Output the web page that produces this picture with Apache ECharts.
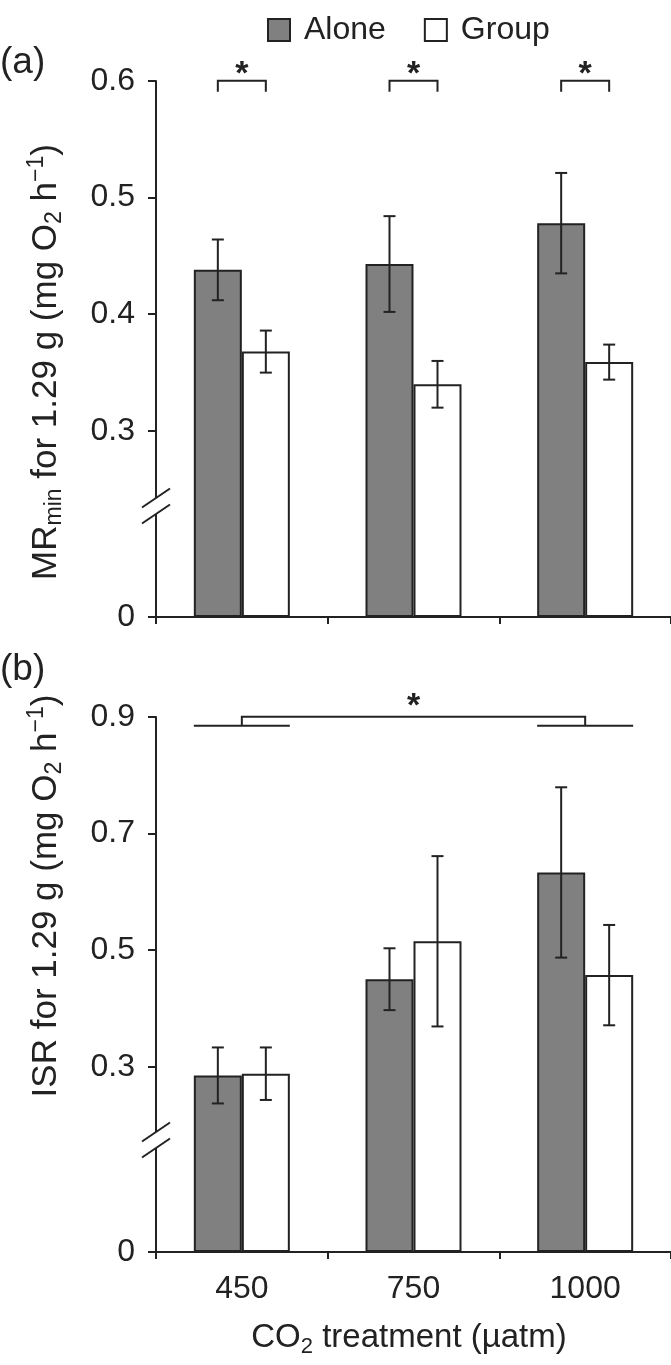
<!DOCTYPE html>
<html><head><meta charset="utf-8">
<script src="https://cdn.jsdelivr.net/npm/echarts@6/dist/echarts.min.js"></script>
<style>html,body{margin:0;padding:0;background:#fff}#c{width:671px;height:1365px}</style>
</head><body><div id="c"></div>
<script>
// ---- data ----
const categories = ['450', '750', '1000'];
const seriesNames = ['Alone', 'Group'];
// panel (a) MRmin
const aloneA = [0.438, 0.443, 0.478];
const aloneA_se = [0.026, 0.041, 0.043];
const groupA = [0.368, 0.340, 0.359];
const groupA_se = [0.018, 0.020, 0.015];
// panel (b) ISR
const aloneB = [0.285, 0.450, 0.633];
const aloneB_se = [0.048, 0.053, 0.146];
const groupB = [0.288, 0.515, 0.457];
const groupB_se = [0.045, 0.146, 0.086];
// axes
const yTicksA = [0, 0.3, 0.4, 0.5, 0.6];
const yTicksB = [0, 0.3, 0.5, 0.7, 0.9];
const breakA = [0.0882, 0.2426];
const breakB = [0.1783, 0.188];
// significance
const sigPairsA = [0, 1, 2];
const sigSpanB = [0, 2];

const FONT = "'Liberation Sans', Arial, sans-serif";
const INK = '#222';
const BAR_W = 48;

const chart = echarts.init(document.getElementById('c'), null, {renderer: 'canvas'});

function fmt(v) { return v === 0 ? '0' : v.toFixed(1); }

function xAxisCfg(grid, showLabels) {
  return {
    type: 'category', gridIndex: grid, data: categories,
    axisLine: {lineStyle: {color: INK, width: 2}},
    axisTick: {show: true, length: 7, lineStyle: {color: INK, width: 2}},
    axisLabel: {show: showLabels, fontSize: 32, color: INK, fontFamily: FONT, margin: 21},
    splitLine: {show: false}
  };
}
function yAxisCfg(grid, ticks, brk) {
  return {
    type: 'value', gridIndex: grid, min: ticks[0], max: ticks[ticks.length - 1],
    breaks: [{start: brk[0], end: brk[1], gap: '2.98%'}],
    breakArea: {show: false},
    axisLine: {show: true, lineStyle: {color: INK, width: 2}},
    axisTick: {show: true, length: 8, customValues: ticks, lineStyle: {color: INK, width: 2}},
    axisLabel: {customValues: ticks, formatter: fmt, fontSize: 32, color: INK, fontFamily: FONT, margin: 21},
    splitLine: {show: false}
  };
}
function barSeries(name, idx, data, color) {
  return {
    type: 'bar', name: name, xAxisIndex: idx, yAxisIndex: idx, data: data,
    barWidth: BAR_W, barGap: '0%', z: 2,
    itemStyle: {color: color, borderColor: INK, borderWidth: 2}
  };
}
function errSeries(idx, means, ses, sign) {
  return {
    type: 'custom', xAxisIndex: idx, yAxisIndex: idx, z: 5, clip: false, silent: true,
    data: means.map((m, i) => [i, m, ses[i]]),
    renderItem(params, api) {
      const i = api.value(0), m = api.value(1), s = api.value(2);
      const x = api.coord([i, m])[0] + sign * BAR_W / 2;
      const yT = api.coord([i, m + s])[1], yB = api.coord([i, m - s])[1];
      const cw = 6, st = {stroke: INK, lineWidth: 2};
      return {type: 'group', children: [
        {type: 'line', shape: {x1: x, y1: yT, x2: x, y2: yB}, style: st},
        {type: 'line', shape: {x1: x - cw, y1: yT, x2: x + cw, y2: yT}, style: st},
        {type: 'line', shape: {x1: x - cw, y1: yB, x2: x + cw, y2: yB}, style: st}
      ]};
    }
  };
}
const sigA = {
  type: 'custom', xAxisIndex: 0, yAxisIndex: 0, z: 6, clip: false, silent: true,
  data: sigPairsA.map(i => [i, yTicksA[yTicksA.length - 1]]),
  renderItem(params, api) {
    const p = api.coord([api.value(0), api.value(1)]);
    const xa = p[0] - BAR_W / 2, xg = p[0] + BAR_W / 2, y = p[1];
    return {type: 'group', children: [
      {type: 'polyline', shape: {points: [[xa, y + 11], [xa, y], [xg, y], [xg, y + 11]]},
       style: {stroke: INK, lineWidth: 2, fill: null}},
      {type: 'text', x: p[0], y: y - 23, style: {text: '*', fontSize: 34, fontWeight: 'bold', fontFamily: FONT,
        fill: INK, align: 'center', verticalAlign: 'top'}}
    ]};
  }
};
const sigB = {
  type: 'custom', xAxisIndex: 1, yAxisIndex: 1, z: 6, clip: false, silent: true,
  data: [[sigSpanB[0], sigSpanB[1], yTicksB[yTicksB.length - 1]]],
  renderItem(params, api) {
    const pL = api.coord([api.value(0), api.value(2)]);
    const pR = api.coord([api.value(1), api.value(2)]);
    const y = pL[1], yl = y + 9, st = {stroke: INK, lineWidth: 2, fill: null};
    return {type: 'group', children: [
      {type: 'line', shape: {x1: pL[0] - BAR_W, y1: yl, x2: pL[0] + BAR_W, y2: yl}, style: st},
      {type: 'line', shape: {x1: pR[0] - BAR_W, y1: yl, x2: pR[0] + BAR_W, y2: yl}, style: st},
      {type: 'polyline', shape: {points: [[pL[0], yl], [pL[0], y], [pR[0], y], [pR[0], yl]]}, style: st},
      {type: 'text', x: (pL[0] + pR[0]) / 2, y: y - 27, style: {text: '*', fontSize: 34, fontWeight: 'bold', fontFamily: FONT,
        fill: INK, align: 'center', verticalAlign: 'top'}}
    ]};
  }
};

chart.setOption({
  animation: false,
  backgroundColor: '#fff',
  textStyle: {fontFamily: FONT},
  legend: {
    data: seriesNames, left: 262, top: 9, icon: 'rect', itemWidth: 22, itemHeight: 22, itemGap: 38,
    textStyle: {fontSize: 32, color: INK, fontFamily: FONT, padding: [0, 0, 0, 9]}
  },
  grid: [
    {left: 156, right: 0, top: 80.7, bottom: 1365 - 617, containLabel: false},
    {left: 156, right: 0, top: 716.7, bottom: 1365 - 1252, containLabel: false}
  ],
  xAxis: [xAxisCfg(0, false), xAxisCfg(1, true)],
  yAxis: [yAxisCfg(0, yTicksA, breakA), yAxisCfg(1, yTicksB, breakB)],
  series: [
    barSeries('Alone', 0, aloneA, '#808080'),
    barSeries('Group', 0, groupA, '#ffffff'),
    barSeries('Alone', 1, aloneB, '#808080'),
    barSeries('Group', 1, groupB, '#ffffff'),
    errSeries(0, aloneA, aloneA_se, -1),
    errSeries(0, groupA, groupA_se, 1),
    errSeries(1, aloneB, aloneB_se, -1),
    errSeries(1, groupB, groupB_se, 1),
    sigA, sigB
  ]
});

// decorations: axis-break slashes, panel labels, axis titles
function breakMarks(yIdx, brk) {
  const xAxisX = chart.getModel().getComponent('grid', yIdx).coordinateSystem.getRect().x;
  const y1 = chart.convertToPixel({yAxisIndex: yIdx}, brk[0]);
  const y2 = chart.convertToPixel({yAxisIndex: yIdx}, brk[1]);
  const st = {stroke: INK, lineWidth: 2};
  return [
    {type: 'rect', shape: {x: xAxisX - 4, y: Math.min(y1, y2), width: 8, height: Math.abs(y1 - y2)}, style: {fill: '#fff'}, z: 100},
    {type: 'line', shape: {x1: xAxisX - 14, y1: y1 + 9.5, x2: xAxisX + 14, y2: y1 - 9.5}, style: st, z: 101},
    {type: 'line', shape: {x1: xAxisX - 14, y1: y2 + 9.5, x2: xAxisX + 14, y2: y2 - 9.5}, style: st, z: 101}
  ];
}
function makeRich(fs) {
  const sfs = Math.round(fs * 0.66);
  return {
    n: {fontSize: fs, lineHeight: fs + 6, fontFamily: FONT, fill: INK, color: INK},
    sub: {fontSize: sfs, lineHeight: sfs, verticalAlign: 'bottom', fontFamily: FONT, fill: INK, color: INK},
    sup: {fontSize: sfs, lineHeight: sfs, verticalAlign: 'top', fontFamily: FONT, fill: INK, color: INK}
  };
}
function titleText(text, x, y, rot, fs) {
  return {type: 'text', x: x, y: y, rotation: rot, z: 100,
    style: {text: text, rich: makeRich(fs), align: 'center', verticalAlign: 'middle', fill: INK, font: fs + 'px ' + FONT}};
}
chart.setOption({
  graphic: [
    ...breakMarks(0, breakA),
    ...breakMarks(1, breakB),
    {type: 'text', x: 0, y: 44, z: 100, style: {text: '(a)', font: '37px ' + FONT, fill: INK}},
    {type: 'text', x: 0, y: 651, z: 100, style: {text: '(b)', font: '37px ' + FONT, fill: INK}},
    titleText('{n|MR}{sub|min}{n| for 1.29 g (mg O}{sub|2}{n| h}{sup|\u22121}{n|)}', 46, 362, Math.PI / 2, 35),
    titleText('{n|ISR for 1.29 g (mg O}{sub|2}{n| h}{sup|\u22121}{n|)}', 46, 896, Math.PI / 2, 35),
    titleText('{n|CO}{sub|2}{n| treatment (\u00b5atm)}', 409, 1338, 0, 33)
  ]
});
</script>
</body></html>
